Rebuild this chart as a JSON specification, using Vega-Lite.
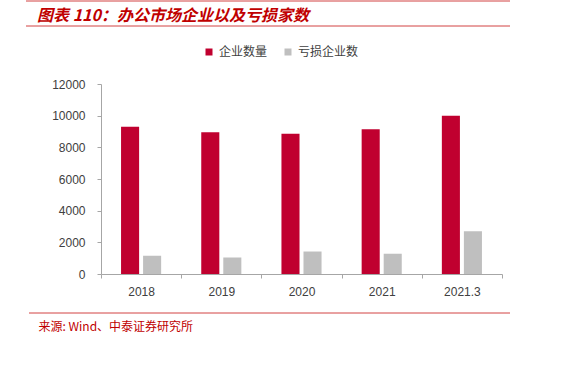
{
  "$schema": "https://vega.github.io/schema/vega-lite/v6.json",
  "autosize": {"type": "none"},
  "width": 401,
  "height": 190,
  "padding": {"left": 101, "top": 84, "right": 82, "bottom": 94},
  "background": "white",
  "title": {
    "text": "图表 110：办公市场企业以及亏损家数",
    "anchor": "start",
    "frame": "group",
    "dx": -64,
    "dy": 23,
    "offset": 0,
    "font": "Noto Sans CJK SC",
    "fontSize": 16,
    "fontWeight": "bold",
    "fontStyle": "italic",
    "color": "#C00000"
  },
  "config": {
    "view": {"stroke": null},
    "font": "Liberation Sans"
  },
  "data": {
    "values": [
      {"year": "2018", "series": "企业数量", "value": 9300},
      {"year": "2018", "series": "亏损企业数", "value": 1150},
      {"year": "2019", "series": "企业数量", "value": 8950},
      {"year": "2019", "series": "亏损企业数", "value": 1050},
      {"year": "2020", "series": "企业数量", "value": 8860},
      {"year": "2020", "series": "亏损企业数", "value": 1420},
      {"year": "2021", "series": "企业数量", "value": 9140},
      {"year": "2021", "series": "亏损企业数", "value": 1280},
      {"year": "2021.3", "series": "企业数量", "value": 10000},
      {"year": "2021.3", "series": "亏损企业数", "value": 2700}
    ]
  },
  "layer": [
    {
      "mark": {"type": "bar"},
      "encoding": {
        "x": {
          "field": "year",
          "type": "nominal",
          "sort": null,
          "scale": {"paddingInner": 0, "paddingOuter": 0},
          "axis": {
            "title": "来源: Wind、中泰证券研究所",
            "titleFont": "Noto Sans CJK SC",
            "titleFontSize": 12,
            "titleFontWeight": "normal",
            "titleColor": "#C00000",
            "titleAnchor": "start",
            "titleAlign": "left",
            "titleX": -63,
            "titleY": 47,
            "labelAngle": 0,
            "labelFontSize": 12,
            "labelColor": "#404040",
            "labelPadding": 8,
            "domainColor": "#A6A6A6",
            "tickColor": "#A6A6A6",
            "tickSize": 4,
            "tickBand": "extent",
            "grid": false
          }
        },
        "xOffset": {
          "field": "series",
          "type": "nominal",
          "sort": ["企业数量", "亏损企业数"],
          "scale": {"paddingInner": 0.18, "paddingOuter": 0.91}
        },
        "y": {
          "field": "value",
          "type": "quantitative",
          "scale": {"domain": [0, 12000], "nice": false},
          "axis": {
            "title": null,
            "values": [0, 2000, 4000, 6000, 8000, 10000, 12000],
            "format": "d",
            "grid": false,
            "labelFontSize": 12,
            "labelColor": "#404040",
            "labelPadding": 12,
            "domainColor": "#A6A6A6",
            "tickColor": "#A6A6A6",
            "tickSize": 4
          }
        },
        "color": {
          "field": "series",
          "type": "nominal",
          "sort": ["企业数量", "亏损企业数"],
          "scale": {"domain": ["企业数量", "亏损企业数"], "range": ["#C0002F", "#BFBFBF"]},
          "legend": {
            "title": null,
            "orient": "none",
            "direction": "horizontal",
            "legendX": 102,
            "legendY": -38,
            "symbolType": "square",
            "symbolSize": 49,
            "symbolStrokeWidth": 0,
            "labelFont": "Noto Sans CJK SC",
            "labelFontSize": 12,
            "labelColor": "#404040",
            "columnPadding": 14
          }
        }
      }
    },
    {
      "mark": {"type": "rule", "color": "#E8A0A0", "strokeWidth": 1},
      "encoding": {
        "x": {"value": -75},
        "x2": {"value": 409},
        "y": {"value": -83}
      }
    },
    {
      "mark": {"type": "rule", "color": "#E8A0A0", "strokeWidth": 1},
      "encoding": {
        "x": {"value": -75},
        "x2": {"value": 409},
        "y": {"value": -58}
      }
    },
    {
      "mark": {"type": "rule", "color": "#E8A0A0", "strokeWidth": 1},
      "encoding": {
        "x": {"value": -72},
        "x2": {"value": 409},
        "y": {"value": 229}
      }
    }
  ]
}
